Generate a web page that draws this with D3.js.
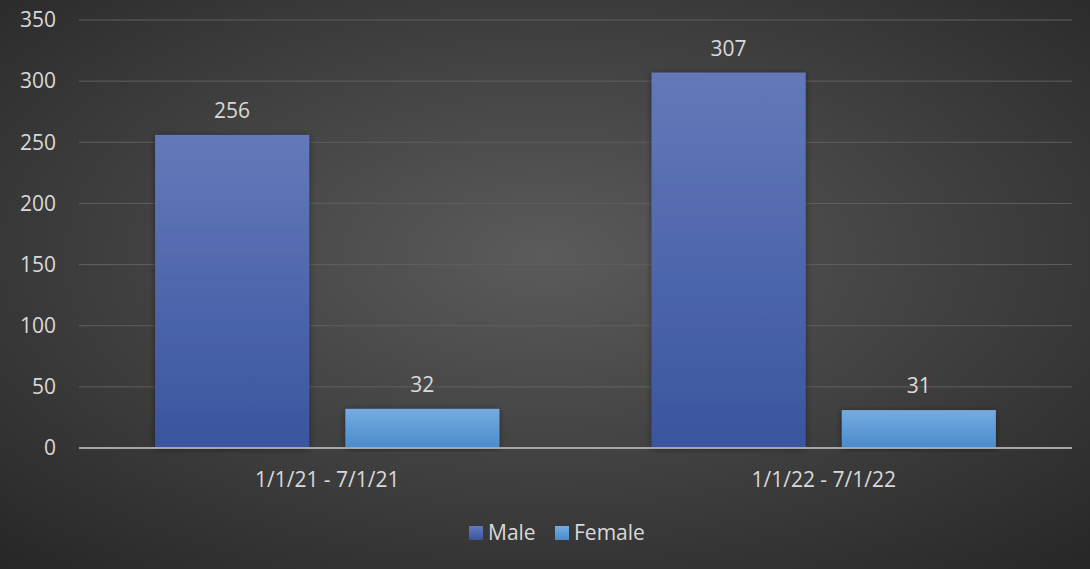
<!DOCTYPE html>
<html lang="en">
<head>
<meta charset="UTF-8">
<title>Male / Female by period</title>
<script src="https://d3js.org/d3.v7.min.js"></script>
<style>
html,body{margin:0;padding:0;background:#2b2b2b}
svg{display:block}
text{font-family:"Open Sans","Noto Sans",sans-serif;fill:#d9d9d9}
</style>
</head>
<body>
<svg id="chart" width="1090" height="569"></svg>
<script>
// data
const periods = ['1/1/21 - 7/1/21', '1/1/22 - 7/1/22'];
const seriesNames = ['Male', 'Female'];
const maleValues = [256, 307];
const femaleValues = [32, 31];
const yTicks = [0, 50, 100, 150, 200, 250, 300, 350];

const W = 1090, H = 569;
const FS = '21px';
const margin = { top: 20, right: 18, bottom: 121, left: 79 };
const svg = d3.select('#chart');
const defs = svg.append('defs');

// background: soft radial glow
const bg = defs.append('radialGradient').attr('id', 'bg')
  .attr('cx', '50%').attr('cy', '45%').attr('r', '75%');
bg.append('stop').attr('offset', '0%').attr('stop-color', '#5b5b5b');
bg.append('stop').attr('offset', '100%').attr('stop-color', '#262626');
svg.append('rect').attr('width', W).attr('height', H).attr('fill', 'url(#bg)');

const colors = {
  Male: ['#6379b9', '#3a559f'],
  Female: ['#74ace0', '#4a8bcb']
};
Object.entries(colors).forEach(([k, c]) => {
  const g = defs.append('linearGradient').attr('id', 'g' + k)
    .attr('x1', 0).attr('y1', 0).attr('x2', 0).attr('y2', 1);
  g.append('stop').attr('offset', '0%').attr('stop-color', c[0]);
  g.append('stop').attr('offset', '100%').attr('stop-color', c[1]);
});
const shadow = defs.append('filter').attr('id', 'shadow')
  .attr('x', '-10%').attr('y', '-10%').attr('width', '120%').attr('height', '120%');
shadow.append('feDropShadow').attr('dx', 0).attr('dy', 1).attr('stdDeviation', 3)
  .attr('flood-color', '#000').attr('flood-opacity', 0.45);

const innerW = W - margin.left - margin.right;
const innerH = H - margin.top - margin.bottom;
const g = svg.append('g').attr('transform', `translate(${margin.left},${margin.top})`);

const x0 = d3.scaleBand().domain(periods).range([0, innerW]).paddingInner(0).paddingOuter(0);
const x1 = d3.scaleBand().domain(seriesNames).range([0, x0.bandwidth()])
  .paddingInner(0.19).paddingOuter(0.4);
const y = d3.scaleLinear().domain([0, 350]).range([innerH, 0]);

// gridlines
g.selectAll('.grid').data(yTicks.slice(1)).join('line')
  .attr('x1', 0).attr('x2', innerW)
  .attr('y1', d => y(d)).attr('y2', d => y(d))
  .attr('stroke', '#5f5f5f').attr('stroke-width', 1);

// y axis labels
g.append('g').call(d3.axisLeft(y).tickValues(yTicks).tickSize(0).tickPadding(23))
  .call(a => a.select('.domain').remove())
  .selectAll('text').style('font-size', FS).attr('fill', '#d9d9d9')
  .style('font-family', '"Open Sans","Noto Sans",sans-serif');

const rows = periods.map((p, i) => ({ period: p, values: [
  { name: 'Male', v: maleValues[i] }, { name: 'Female', v: femaleValues[i] }] }));

const grp = g.selectAll('.grp').data(rows).join('g')
  .attr('transform', d => `translate(${x0(d.period)},0)`);
grp.selectAll('rect').data(d => d.values).join('rect')
  .attr('x', d => x1(d.name)).attr('width', x1.bandwidth())
  .attr('y', d => y(d.v)).attr('height', d => y(0) - y(d.v))
  .attr('fill', d => `url(#g${d.name})`).attr('filter', 'url(#shadow)');
grp.selectAll('.val').data(d => d.values).join('text')
  .attr('x', d => x1(d.name) + x1.bandwidth() / 2).attr('y', d => y(d.v) - 17)
  .attr('text-anchor', 'middle').style('font-size', FS).text(d => d.v);

// x axis line
g.append('line').attr('x1', 0).attr('x2', innerW).attr('y1', y(0)).attr('y2', y(0))
  .attr('stroke', '#a6a6a6').attr('stroke-width', 2);
g.append('g').attr('transform', `translate(0,${innerH})`)
  .call(d3.axisBottom(x0).tickSize(0).tickPadding(24))
  .call(a => a.select('.domain').remove())
  .selectAll('text').style('font-size', FS).attr('fill', '#d9d9d9')
  .style('font-family', '"Open Sans","Noto Sans",sans-serif');

// legend
const legend = svg.append('g').attr('transform', 'translate(469,533)');
const items = [{ name: 'Male', x: 0 }, { name: 'Female', x: 86 }];
const li = legend.selectAll('g').data(items).join('g').attr('transform', d => `translate(${d.x},0)`);
li.append('rect').attr('x', 0).attr('y', -7).attr('width', 14).attr('height', 14)
  .attr('fill', d => `url(#g${d.name})`);
li.append('text').attr('x', 19).attr('y', 0).attr('dy', '0.35em')
  .style('font-size', FS).text(d => d.name);
</script>
</body>
</html>
